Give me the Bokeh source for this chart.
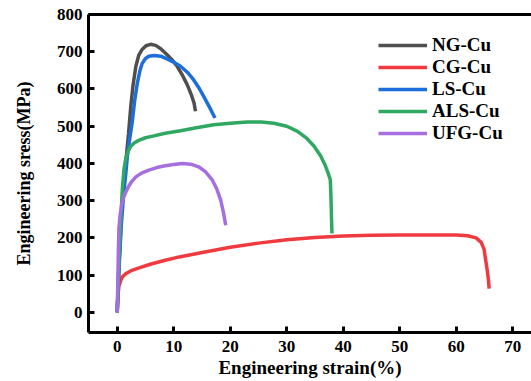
from bokeh.plotting import figure
from bokeh.models import FixedTicker, Range1d, Legend, LegendItem, LinearAxis, Title
from bokeh.embed import file_html
from bokeh.resources import INLINE

# ---- data ----
ng_x = [0, 0.3, 0.7, 1.1, 1.5, 2.0, 2.4, 2.8, 3.3, 3.8, 4.4, 5.1, 5.9, 6.8, 7.7, 8.6, 9.6, 10.6, 11.5, 12.4, 13.1, 13.6, 13.85]
ng_y = [0, 120, 250, 340, 400, 480, 553, 610, 661, 690, 706, 716, 720, 717, 708, 695, 680, 661, 638, 611, 585, 562, 540]

cg_x = [0, 0.1, 0.3, 0.6, 0.9, 1.5, 2.6, 4, 6, 8.5, 11, 14.8, 20, 25, 30, 35, 40, 45, 50, 55, 60, 62, 63.5, 64.4, 64.9, 65.2, 65.5, 65.7, 65.8]
cg_y = [0, 40, 70, 85, 95, 104, 113, 120, 130, 140, 149, 160, 175, 186, 195, 201, 205, 207, 208, 208, 208, 206, 200, 188, 170, 140, 110, 85, 64]

ls_x = [0, 0.3, 0.7, 1.1, 1.5, 1.8, 2.2, 2.65, 3.1, 3.55, 4.0, 4.4, 5.0, 5.6, 6.5, 7.7, 8.9, 10.0, 11.2, 12.4, 13.5, 14.5, 15.3, 16.3, 17.3]
ls_y = [0, 110, 230, 310, 370, 420, 465, 510, 570, 615, 648, 668, 682, 688, 690, 688, 680, 672, 661, 645, 625, 602, 580, 552, 522]

als_x = [0, 0.2, 0.4, 0.6, 0.9, 1.2, 1.5, 1.9, 2.4, 3.0, 3.8, 5.0, 6.5, 8.5, 11.2, 14, 17.1, 20, 23, 25.5, 27.7, 30, 31.9, 33.5, 34.8, 36, 36.8, 37.3, 37.7, 37.8, 37.9, 38.0]
als_y = [0, 90, 170, 240, 330, 385, 412, 432, 446, 455, 462, 469, 474, 481, 488, 496, 504, 508, 511, 511, 508, 500, 486, 468, 447, 420, 395, 375, 356, 320, 260, 212]

ufg_x = [0, 0.1, 0.2, 0.3, 0.5, 0.8, 1.1, 1.5, 2.0, 2.6, 3.3, 4.3, 5.6, 7.0, 8.5, 10.0, 11.5, 13.0, 14.4, 15.6, 16.8, 17.6, 18.3, 18.8, 19.2]
ufg_y = [0, 80, 160, 225, 260, 290, 308, 322, 338, 352, 364, 374, 382, 389, 394, 397, 400, 398, 391, 378, 356, 332, 302, 268, 234]

names = ["NG-Cu", "CG-Cu", "LS-Cu", "ALS-Cu", "UFG-Cu"]
colors = ["#4f4f4f", "#ef3b3f", "#1b6edc", "#2fa862", "#a66fe0"]
x_ticks = [0, 10, 20, 30, 40, 50, 60, 70]
y_ticks = [0, 100, 200, 300, 400, 500, 600, 700, 800]
x_title = "Engineering strain(%)"
y_title = "Engineering sress(MPa)"

FONT = "'Liberation Serif', 'DejaVu Serif', serif"

p = figure(width=531, height=381, output_backend="svg", toolbar_location=None,
           x_range=Range1d(-5.08, 73.3), y_range=Range1d(-54, 800),
           min_border_left=88, min_border_right=0, min_border_top=14, min_border_bottom=49)
p.outline_line_color = None
p.grid.visible = False
p.background_fill_color = "white"

series = [(ng_x, ng_y), (cg_x, cg_y), (ls_x, ls_y), (als_x, als_y), (ufg_x, ufg_y)]
renderers = []
for (xs, ys), c in zip(series, colors):
    renderers.append(p.line(xs, ys, line_color=c, line_width=3.5))

for ax in (p.xaxis[0], p.yaxis[0]):
    ax.axis_line_width = 3
    ax.major_tick_line_width = 3
    ax.major_tick_in = 6
    ax.major_tick_out = 0
    ax.minor_tick_line_color = None
    ax.major_label_text_font = FONT
    ax.major_label_text_font_style = "bold"
    ax.major_label_text_font_size = "17px"
    ax.major_label_text_color = "black"
    ax.axis_label_text_font = FONT
    ax.axis_label_text_font_style = "bold"
    ax.axis_label_text_font_size = "18px"
    ax.axis_label_text_color = "black"

p.xaxis.ticker = FixedTicker(ticks=x_ticks)
p.yaxis.ticker = FixedTicker(ticks=y_ticks)
p.xaxis.major_label_standoff = 8
p.yaxis.major_label_standoff = 6
p.yaxis.axis_label = y_title
p.yaxis.axis_label_standoff = 20

# top frame line as an unlabelled axis
top = LinearAxis(axis_line_width=3, major_tick_line_color=None, minor_tick_line_color=None,
                 major_label_text_font_size="0px", major_tick_in=0, major_tick_out=0,
                 major_label_standoff=0, ticker=FixedTicker(ticks=[]))
p.add_layout(top, "above")

# x axis title as a title panel below the axis
p.add_layout(Title(text=x_title, align="center", offset=4, standoff=0,
                   text_font=FONT, text_font_style="bold", text_font_size="19px",
                   text_color="black"), "below")

legend = Legend(items=[LegendItem(label=n, renderers=[r]) for n, r in zip(names, renderers)],
                location=(290, 188), border_line_color=None, background_fill_color=None,
                padding=0, margin=0, spacing=0, glyph_width=49, glyph_height=20,
                label_height=20, label_standoff=5,
                label_text_font=FONT, label_text_font_style="bold",
                label_text_font_size="19px", label_text_color="black")
p.add_layout(legend)

open("out.html", "w").write(file_html(p, INLINE))
